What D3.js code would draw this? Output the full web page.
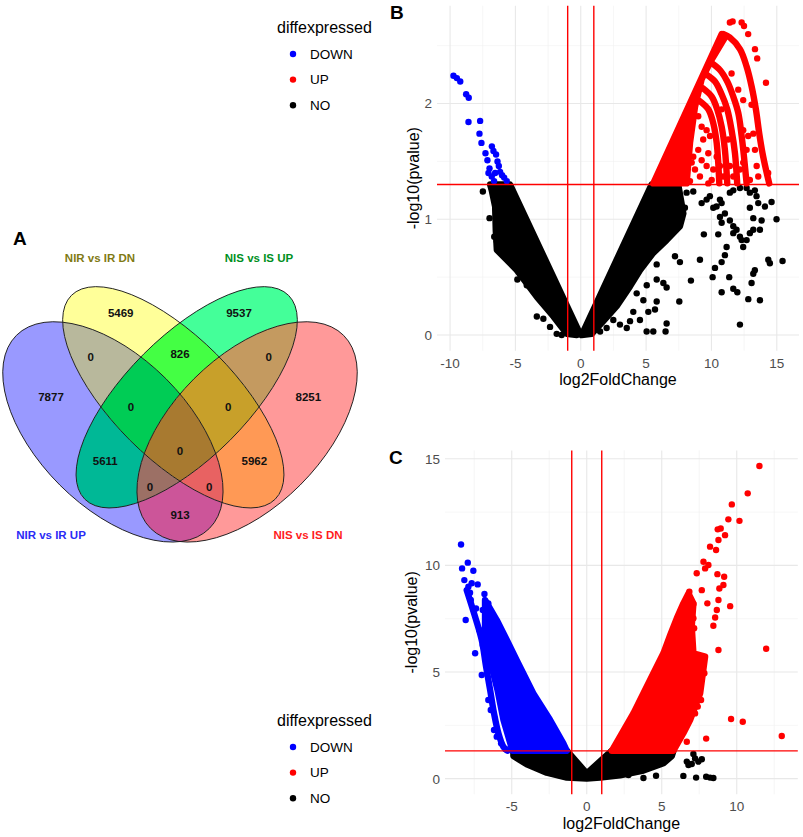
<!DOCTYPE html>
<html>
<head>
<meta charset="utf-8">
<script src="https://cdn.jsdelivr.net/npm/d3@7"></script>
<style>
  body { margin: 0; background: #fff; }
  svg { display: block; font-family: "Liberation Sans", Arial, Helvetica, sans-serif; }
</style>
</head>
<body>
<svg id="fig"></svg>
<script>
// ---------------- data ----------------
// Venn (A)
const vennSets = ["NIR vs IR UP", "NIR vs IR DN", "NIS vs IS UP", "NIS vs IS DN"];
const vennRegionSets = [[0],[1],[2],[3],[0,1],[0,2],[0,3],[1,2],[1,3],[2,3],[0,1,2],[0,1,3],[0,2,3],[1,2,3],[0,1,2,3]];
const vennRegionCounts = [7877, 5469, 9537, 8251, 0, 5611, 913, 826, 5962, 0, 0, 0, 0, 0, 0];

// Volcano B  [log2FoldChange, -log10(pvalue)]
const bTicksX = [-10, -5, 0, 5, 10, 15];
const bTicksY = [0, 1, 2];
const bDown = [[-9.74,2.24],[-9.48,2.22],[-9.22,2.19],[-8.77,2.08],[-8.57,2.05],[-8.59,1.84],[-7.70,1.85],
  [-7.75,1.74],[-7.60,1.66],[-6.80,1.63],[-6.68,1.59],[-7.29,1.57],[-7.14,1.51],[-6.98,1.44],[-6.81,1.37],
  [-6.63,1.33],[-6.37,1.50],[-6.27,1.46],[-6.17,1.41],[-6.02,1.38],[-5.86,1.36],[-5.66,1.33],[-6.48,1.56],
  [-7.06,1.40],[-6.55,1.40]];
const bUp = [[11.41,2.70],[11.62,2.71],[12.31,2.70],[12.49,2.67],[12.81,2.60],[13.33,2.47],[13.50,2.39],
  [14.17,2.18],[14.34,1.40],[8.99,1.89],[9.25,1.80],[9.63,1.77],[9.37,1.69],[9.89,1.72],[8.99,1.60],
  [8.61,1.54],[9.25,1.51],[9.63,1.46],[10.14,1.43],[10.65,1.46],[10.90,1.37],[10.02,1.34],[9.12,1.37],
  [8.49,1.49],[8.74,1.43],[10.40,1.54],[9.76,1.57],[11.41,1.46],[11.67,1.37],[12.18,1.43],[12.43,1.49],
  [12.69,1.60],[12.81,1.72],[12.43,1.77],[13.20,1.74],[13.33,1.60],[13.46,1.46],[13.58,1.37],[12.94,1.34],
  [8.36,1.33],[9.76,1.31],[11.28,1.69],[10.78,1.95],[12.43,2.03],[12.05,2.12],[11.54,2.26],[13.07,1.99]];
const bUpCloud = [[5.55,1.31],[10.78,2.60],[11.03,2.57],[10.02,2.38],[9.25,2.21],[8.74,1.97],[8.36,1.66],[8.10,1.31]];
const bUpArcs = [
  [[10.90,2.60],[11.41,2.57],[12.18,2.47],[12.69,2.32],[13.07,2.15],[13.40,1.95],[13.66,1.74],[13.91,1.57],[14.17,1.43],[14.42,1.31]],
  [[10.02,2.35],[10.65,2.29],[11.21,2.19],[11.67,2.06],[12.05,1.92],[12.31,1.72],[12.49,1.54],[12.69,1.31]],
  [[9.63,2.25],[10.27,2.19],[10.78,2.08],[11.21,1.95],[11.54,1.77],[11.80,1.57],[11.97,1.31]],
  [[9.37,2.13],[10.02,2.06],[10.44,1.95],[10.78,1.80],[11.03,1.60],[11.21,1.31]],
  [[9.12,2.02],[9.76,1.95],[10.14,1.83],[10.40,1.66],[10.60,1.31]]
];
const bNo = [[-7.49,1.24],[-6.98,1.01],[-6.62,0.85],[-6.42,0.81],[-4.85,0.48],[-3.36,0.16],[-2.86,0.14],
  [-2.35,0.07],[-1.84,0.01],[-1.46,0.0],[-4.13,0.43],
  [8.10,1.23],[8.61,1.24],[7.97,1.10],[9.25,1.14],[9.63,1.17],[10.14,1.10],[10.39,1.11],[10.65,1.17],
  [10.78,1.14],[11.03,1.05],[11.41,1.23],[11.67,1.25],[12.18,1.27],[12.69,1.27],[12.94,1.23],[13.32,1.25],
  [13.45,1.20],[13.58,1.14],[10.65,1.02],[10.78,0.97],[11.41,0.99],[11.67,0.94],[11.67,0.88],[11.92,0.91],
  [12.18,0.85],[12.31,0.82],[12.43,0.76],[12.69,0.82],[12.94,0.88],[13.20,0.91],[13.71,0.91],[13.84,0.99],
  [14.60,1.15],[14.98,1.00],[15.44,0.64],[14.35,0.65],[14.47,0.62],[9.42,0.87],[10.52,0.87],[11.16,0.76],
  [11.03,0.69],[10.78,0.63],[10.27,0.58],[10.09,0.50],[11.36,0.50],[11.67,0.40],[11.98,0.37],[10.78,0.37],
  [12.82,0.31],[13.71,0.30],[13.20,0.53],[13.32,0.56],[13.07,0.45],[9.12,0.65],[8.43,0.47],[7.54,0.29],
  [7.21,0.68],[7.59,0.63],[6.57,0.41],[5.81,0.61],[5.68,0.22],[6.32,0.45],[5.81,0.48],[5.05,0.43],
  [5.17,0.20],[6.57,0.10],[6.49,0.03],[5.55,0.03],[5.04,0.03],[4.53,0.13],[4.02,0.20],[3.77,0.12],
  [3.52,0.06],[3.00,0.09],[2.49,0.13],[1.98,0.06],[1.48,0.03],[12.18,0.09],[14.09,1.11],[9.88,1.20],
  [12.94,1.10],[13.20,1.01],[4.28,0.36],[4.79,0.30],[5.81,0.29]];
const bNoClouds = [
  [[-0.18,0.04],[-5.41,1.30],[-6.93,1.30],[-6.81,1.25],[-6.55,1.11],[-6.50,0.90],[-6.42,0.735],[-4.89,0.56],
   [-3.36,0.33],[-2.09,0.16],[-1.07,0.01],[-0.3,0.0]],
  [[0.07,0],[5.42,1.30],[7.46,1.30],[7.85,1.05],[7.59,0.94],[6.57,0.82],[5.55,0.71],[4.53,0.56],
   [3.77,0.42],[2.75,0.25],[1.73,0.12],[0.84,0.01]]
];

// Volcano C
const cTicksX = [-5, 0, 5, 10];
const cTicksY = [0, 5, 10, 15];
const cDown = [[-8.38,10.98],[-8.31,9.86],[-7.93,10.13],[-7.56,9.75],[-8.16,9.31],[-7.89,9.0],[-7.67,9.16],
  [-7.27,9.11],[-7.78,8.72],[-7.73,8.38],[-7.38,7.98],[-6.93,7.91],[-6.82,8.66],[-8.07,7.44],[-7.16,6.97],
  [-6.93,6.27],[-7.44,5.88],[-7.0,4.86],[-6.56,8.22],[-6.4,7.75],[-6.22,7.36],[-6.0,6.81],[-6.33,6.5],
  [-5.78,6.19],[-6.56,3.69],[-6.4,3.22],[-6.0,1.97],[-5.71,1.66],[-5.4,1.38],[-6.18,2.28]];
const cDownCloud = [[-6.78,8.38],[-6.0,7.44],[-5.33,6.5],[-4.67,5.56],[-3.56,4.0],[-2.44,2.75],[-1.56,1.66],
  [-1.33,1.31],[-4.95,1.31],[-5.55,2.75],[-5.95,4.16],[-6.45,5.56],[-6.78,6.81]];
const cDownArc = [[-8.0,8.84],[-7.44,7.59],[-7.0,6.5],[-6.71,5.25],[-6.44,4.16],[-6.18,3.06],[-5.89,2.13],
  [-5.56,1.5],[-5.29,1.31]];
const cUp = [[11.51,14.66],[10.73,13.38],[9.67,12.86],[9.44,12.16],[10.18,12.09],[8.73,11.69],[8.93,11.73],
  [9.22,11.42],[8.78,11.19],[8.22,10.88],[8.62,10.72],[7.78,10.17],[8.11,10.02],[7.89,9.86],[7.33,9.63],
  [8.71,9.59],[9.16,9.47],[9.11,9.08],[8.84,8.92],[7.67,8.84],[6.84,8.77],[8.78,8.38],[8.04,8.22],
  [9.56,8.09],[7.11,8.19],[8.67,7.91],[8.56,7.56],[8.44,7.17],[8.78,6.03],[11.96,6.09],[7.11,7.52],
  [7.16,7.05],[6.93,6.34],[7.78,5.56],[7.84,4.94],[7.62,3.69],[7.40,3.38],[7.22,3.06],[6.67,1.73],
  [7.96,1.88],[9.62,2.80],[10.4,2.67],[13.0,2.0],[6.22,2.28],[6.0,1.97],[6.56,4.78],[6.78,4.0]];
const cUpCloud = [[1.67,1.31],[3.11,3.06],[4.22,4.63],[5.11,5.88],[5.56,6.73],[6.0,7.52],[6.44,8.22],
  [6.78,8.69],[7.11,8.22],[7.0,7.13],[7.11,5.88],[7.89,5.72],[7.56,4.0],[6.89,2.75],[6.44,2.13],[5.78,1.31]];
const cNo = [[7.11,1.16],[6.67,0.80],[7.0,0.69],[7.44,0.80],[7.67,0.91],[7.22,0.95],[6.78,0.64],[6.44,0.13],
  [7.29,0.05],[7.96,0.09],[8.22,0.05],[8.44,0.03],[4.62,0.14],[3.78,0.03],[2.78,0.17]];
const cNoClouds = [
  [[-4.89,1.31],[-1.33,1.31],[0,0.25],[1.67,1.31],[5.78,1.31],[5.67,1.06],[5.11,0.72],[3.78,0.38],
   [2.22,0.16],[0.89,0.05],[0,0],[-1.33,0.05],[-2.67,0.28],[-4.0,0.67],[-4.89,1.06]]
];

const legendItems = ["DOWN", "UP", "NO"];
const legendColors = { DOWN: "#0000ff", UP: "#ff0000", NO: "#000000" };

// ---------------- drawing ----------------
const svg = d3.select("#fig").attr("width", 803).attr("height", 837);
svg.append("rect").attr("width", 803).attr("height", 837).attr("fill", "#fff");

function createVenn(svg) {
  const ellipses = [
    { cx: 112.9, cy: 431.9, rx: 136.5, ry: 75.1, rot: 45 },
    { cx: 173.3, cy: 397.3, rx: 144.1, ry: 61.0, rot: 45 },
    { cx: 186.7, cy: 397.3, rx: 144.1, ry: 61.0, rot: -45 },
    { cx: 247.1, cy: 431.9, rx: 136.5, ry: 75.1, rot: -45 },
  ];
  const regionColors = ["#9999ff", "#ffff99", "#44ff99", "#ff9999", "#b8b89c", "#00b896", "#cc5599",
    "#44ff44", "#ff9955", "#c49a60", "#00cc55", "#e86262", "#9c7065", "#c8a02a", "#a87a30"];
  const labelPos = [[51,396.7],[120.7,312.7],[239,312.7],[308.3,396.7],[90.7,356.7],[105.3,461],[180,515],
    [180,354],[254.3,461],[268.7,356.7],[131,406.7],[209.3,486.7],[150,486.7],[228.3,406.7],[180,450.7]];
  const setPos = [[51,535],[100,258],[259,258],[308,535]];
  const setColors = ["#2b2bf5", "#7f7a14", "#00901e", "#ff1c1c"];

  const ellAttrs = (sel, e) => sel
    .attr("rx", e.rx).attr("ry", e.ry)
    .attr("transform", `translate(${e.cx},${e.cy}) rotate(${e.rot})`);

  const defs = svg.append("defs");
  ellipses.forEach((e, i) => {
    ellAttrs(defs.append("clipPath").attr("id", `vclip-${i}`).append("ellipse"), e);
  });

  const g = svg.append("g");
  vennRegionSets.forEach((sets, k) => {
    const outside = [0, 1, 2, 3].filter((i) => !sets.includes(i));
    const mask = defs.append("mask").attr("id", `vmask-${k}`)
      .attr("maskUnits", "userSpaceOnUse").attr("x", 0).attr("y", 0).attr("width", 803).attr("height", 837);
    mask.append("rect").attr("width", 803).attr("height", 837).attr("fill", "white");
    outside.forEach((i) => ellAttrs(mask.append("ellipse"), ellipses[i]).attr("fill", "black"));
    let inner = g.append("g").attr("mask", `url(#vmask-${k})`);
    sets.forEach((i) => { inner = inner.append("g").attr("clip-path", `url(#vclip-${i})`); });
    inner.append("rect").attr("x", 0).attr("y", 200).attr("width", 400).attr("height", 400)
      .attr("fill", regionColors[k]);
  });

  // outlines
  ellipses.forEach((e) => {
    ellAttrs(g.append("ellipse"), e).attr("fill", "none").attr("stroke", "#1a1a1a").attr("stroke-width", 0.9);
  });

  // counts
  g.selectAll("text.count").data(vennRegionCounts).join("text")
    .attr("class", "count")
    .attr("x", (d, i) => labelPos[i][0]).attr("y", (d, i) => labelPos[i][1])
    .attr("dy", "0.36em").attr("text-anchor", "middle")
    .attr("font-size", 11.5).attr("font-weight", "bold").attr("fill", "#111")
    .text((d) => d);

  g.selectAll("text.set").data(vennSets).join("text")
    .attr("class", "set")
    .attr("x", (d, i) => setPos[i][0]).attr("y", (d, i) => setPos[i][1])
    .attr("dy", "0.36em").attr("text-anchor", "middle")
    .attr("font-size", 11.5).attr("font-weight", "bold")
    .attr("fill", (d, i) => setColors[i])
    .text((d) => d);
}

function createVolcano(svg, cfg) {
  const { box, ticksX, ticksY, down, up, no, upClouds, downClouds, noClouds, arcsUp, arcsDown, labelX, labelY } = cfg;
  const all = [].concat(down, up, no, ...upClouds, ...downClouds, ...noClouds, ...arcsUp, ...arcsDown);
  const ex = d3.extent(all, (d) => d[0]);
  const ey = d3.extent(all, (d) => d[1]);
  const px = (ex[1] - ex[0]) * 0.05, py = (ey[1] - ey[0]) * 0.05;

  const x = d3.scaleLinear().domain([ex[0] - px, ex[1] + px]).range([box.left, box.right]);
  const y = d3.scaleLinear().domain([ey[0] - py, ey[1] + py]).range([box.bottom, box.top]);
  const g = svg.append("g");

  // minor + major grid (theme_minimal)
  const minor = (ticks, dom) => {
    const step = ticks[1] - ticks[0];
    const out = [];
    for (let v = ticks[0] - step / 2; v <= ticks[ticks.length - 1] + step / 2 + 1e-9; v += step) {
      if (v > dom[0] && v < dom[1]) out.push(v);
    }
    return out;
  };
  g.selectAll("line.mx").data(minor(ticksX, x.domain())).join("line")
    .attr("x1", x).attr("x2", x).attr("y1", box.top).attr("y2", box.bottom)
    .attr("stroke", "#f0f0f0").attr("stroke-width", 0.6);
  g.selectAll("line.my").data(minor(ticksY, y.domain())).join("line")
    .attr("y1", y).attr("y2", y).attr("x1", box.left).attr("x2", box.right)
    .attr("stroke", "#f0f0f0").attr("stroke-width", 0.6);
  g.selectAll("line.gx").data(ticksX).join("line")
    .attr("x1", x).attr("x2", x).attr("y1", box.top).attr("y2", box.bottom)
    .attr("stroke", "#e8e8e8").attr("stroke-width", 1.1);
  g.selectAll("line.gy").data(ticksY).join("line")
    .attr("y1", y).attr("y2", y).attr("x1", box.left).attr("x2", box.right)
    .attr("stroke", "#e8e8e8").attr("stroke-width", 1.1);

  // tick labels
  g.selectAll("text.tx").data(ticksX).join("text")
    .attr("x", x).attr("y", box.bottom + 17).attr("text-anchor", "middle")
    .attr("font-size", 13.5).attr("fill", "#4d4d4d").text((d) => String(d));
  g.selectAll("text.ty").data(ticksY).join("text")
    .attr("x", box.left - 5).attr("y", y).attr("dy", "0.36em").attr("text-anchor", "end")
    .attr("font-size", 13.5).attr("fill", "#4d4d4d").text((d) => String(d));

  // axis titles
  g.append("text").attr("x", (box.left + box.right) / 2).attr("y", labelX)
    .attr("text-anchor", "middle").attr("font-size", 16).attr("fill", "#000").text("log2FoldChange");
  g.append("text").attr("transform", `translate(${labelY},${(box.top + box.bottom) / 2}) rotate(-90)`)
    .attr("dy", "0.36em").attr("text-anchor", "middle").attr("font-size", 16).attr("fill", "#000")
    .text("-log10(pvalue)");

  const r = 3.2;
  const poly = d3.line().x((d) => x(d[0])).y((d) => y(d[1])).curve(d3.curveLinearClosed);
  const path = d3.line().x((d) => x(d[0])).y((d) => y(d[1])).curve(d3.curveCatmullRom);

  const drawClouds = (data, col) => g.append("g").selectAll("path").data(data).join("path")
    .attr("d", poly).attr("fill", col).attr("stroke", col).attr("stroke-width", 2 * r)
    .attr("stroke-linejoin", "round");
  const drawArcs = (data, col) => g.append("g").selectAll("path").data(data).join("path")
    .attr("d", path).attr("fill", "none").attr("stroke", col).attr("stroke-width", 2 * r)
    .attr("stroke-linecap", "round").attr("stroke-linejoin", "round");
  const drawPts = (data, col) => g.append("g").selectAll("circle").data(data).join("circle")
    .attr("cx", (d) => x(d[0])).attr("cy", (d) => y(d[1])).attr("r", r).attr("fill", col);

  drawClouds(noClouds, legendColors.NO);
  drawPts(no, legendColors.NO);
  drawClouds(downClouds, legendColors.DOWN);
  drawArcs(arcsDown, legendColors.DOWN);
  drawPts(down, legendColors.DOWN);
  drawClouds(upClouds, legendColors.UP);
  drawArcs(arcsUp, legendColors.UP);
  drawPts(up, legendColors.UP);

  // thresholds
  g.selectAll("line.v").data([-1, 1]).join("line")
    .attr("x1", x).attr("x2", x).attr("y1", box.top).attr("y2", box.bottom)
    .attr("stroke", "#ff0000").attr("stroke-width", 1.4);
  g.append("line").attr("x1", box.left).attr("x2", box.right)
    .attr("y1", y(-Math.log10(0.05))).attr("y2", y(-Math.log10(0.05)))
    .attr("stroke", "#ff0000").attr("stroke-width", 1.4);
}

function createLegend(svg, left, top) {
  const g = svg.append("g");
  g.append("text").attr("x", left).attr("y", top).attr("dy", "0.36em")
    .attr("font-size", 16).attr("fill", "#000").text("diffexpressed");
  const rows = g.selectAll("g.row").data(legendItems).join("g")
    .attr("transform", (d, i) => `translate(${left},${top + 27 + i * 25.6})`);
  rows.append("circle").attr("cx", 16).attr("cy", 0).attr("r", 3.2).attr("fill", (d) => legendColors[d]);
  rows.append("text").attr("x", 33).attr("y", 0).attr("dy", "0.36em")
    .attr("font-size", 13.5).attr("fill", "#000").text((d) => d);
}

function panelLetter(svg, txt, x, y) {
  svg.append("text").attr("x", x).attr("y", y).attr("font-size", 19).attr("font-weight", "bold")
    .attr("fill", "#000").text(txt);
}

createVenn(svg);

createVolcano(svg, {
  box: { left: 437, right: 799, top: 5.7, bottom: 350.7 },
  ticksX: bTicksX, ticksY: bTicksY,
  down: bDown, up: bUp, no: bNo,
  upClouds: [bUpCloud], downClouds: [], noClouds: bNoClouds,
  arcsUp: bUpArcs, arcsDown: [],
  labelX: 385, labelY: 413,
});

createVolcano(svg, {
  box: { left: 445, right: 797.8, top: 450.4, bottom: 794.3 },
  ticksX: cTicksX, ticksY: cTicksY,
  down: cDown, up: cUp, no: cNo,
  upClouds: [cUpCloud], downClouds: [cDownCloud], noClouds: cNoClouds,
  arcsUp: [], arcsDown: [cDownArc],
  labelX: 829, labelY: 411.7,
});

createLegend(svg, 277, 27);
createLegend(svg, 277, 720);

panelLetter(svg, "A", 13, 245);
panelLetter(svg, "B", 390, 18.5);
panelLetter(svg, "C", 389, 463.5);
</script>
</body>
</html>
